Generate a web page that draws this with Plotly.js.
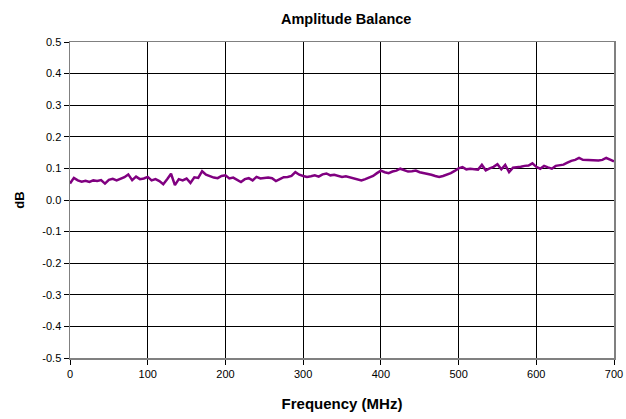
<!DOCTYPE html>
<html>
<head>
<meta charset="utf-8">
<script src="https://cdn.plot.ly/plotly-3.0.1.min.js"></script>
<style>html,body{margin:0;padding:0;background:#fff;}#chart{width:626px;height:419px;}</style>
</head>
<body>
<div id="chart"></div>
<script>
const freqMHz = [0,5,10,15,20,25,30,35,40,45,50,55,60,65,70,75,80,85,90,95,
100,105,110,115,120,125,130,135,140,145,150,155,160,165,170,175,180,185,190,195,
200,205,210,215,220,225,230,235,240,245,250,255,260,265,270,275,280,285,290,295,
300,305,310,315,320,325,330,335,340,345,350,355,360,365,370,375,380,385,390,395,
400,405,410,415,420,425,430,435,440,445,450,455,460,465,470,475,480,485,490,495,
500,505,510,515,520,525,530,535,540,545,550,555,560,565,570,575,580,585,590,595,
600,605,610,615,620,625,630,635,640,645,650,655,660,665,670,675,680,685,690,695,700];
const balanceDB = [0.052,0.070,0.062,0.058,0.061,0.057,0.062,0.060,0.063,0.052,0.064,0.067,0.062,0.068,0.072,0.081,0.063,0.074,0.066,0.068,
0.073,0.062,0.066,0.060,0.050,0.066,0.083,0.047,0.066,0.062,0.068,0.054,0.072,0.070,0.091,0.080,0.075,0.071,0.069,0.076,
0.078,0.068,0.071,0.064,0.057,0.066,0.069,0.062,0.073,0.068,0.070,0.071,0.069,0.060,0.066,0.072,0.073,0.076,0.088,0.080,
0.076,0.073,0.075,0.078,0.074,0.081,0.084,0.078,0.080,0.076,0.073,0.075,0.072,0.070,0.065,0.062,0.066,0.072,0.076,0.085,
0.093,0.088,0.085,0.090,0.093,0.099,0.094,0.090,0.091,0.093,0.088,0.086,0.082,0.080,0.076,0.073,0.076,0.080,0.085,0.092,
0.100,0.104,0.097,0.099,0.098,0.096,0.111,0.094,0.100,0.105,0.113,0.097,0.111,0.088,0.102,0.103,0.105,0.108,0.109,0.116,
0.105,0.099,0.108,0.103,0.099,0.108,0.111,0.112,0.118,0.124,0.127,0.133,0.127,0.126,0.125,0.124,0.125,0.127,0.133,0.128,0.122];
const xTickVals = [0,100,200,300,400,500,600,700];
const yTickVals = [0.5,0.4,0.3,0.2,0.1,0.0,-0.1,-0.2,-0.3,-0.4,-0.5];
const yTickText = ["0.5","0.4","0.3","0.2","0.1","0.0","-0.1","-0.2","-0.3","-0.4","-0.5"];

const font = "Liberation Sans, Arial, sans-serif";
const trace = {
  x: freqMHz, y: balanceDB, type: "scatter", mode: "lines",
  line: {color: "#800080", width: 2.5}, hoverinfo: "skip"
};
const axisCommon = {
  showgrid: true, gridcolor: "#000000", gridwidth: 1,
  showline: true, linecolor: "#808080", linewidth: 1.5, mirror: true,
  ticks: "outside", ticklen: 5, tickcolor: "#000000", tickwidth: 1,
  zeroline: false, tickfont: {family: font, size: 11, color: "#000"},
  fixedrange: true
};
const layout = {
  width: 626, height: 419,
  margin: {l: 70, r: 12, t: 42, b: 61},
  paper_bgcolor: "#fff", plot_bgcolor: "#fff",
  showlegend: false,
  title: {text: "<b>Amplitude Balance</b>", font: {family: font, size: 14.5, color: "#000"}, x: 0.553, xanchor: "center", y: 0.955, yanchor: "middle"},
  xaxis: Object.assign({}, axisCommon, {
    range: [0, 700], tickvals: xTickVals, ticktext: xTickVals.map(String),
    title: {text: "<b>Frequency (MHz)</b>", font: {family: font, size: 15, color: "#000"}, standoff: 20}
  }),
  yaxis: Object.assign({}, axisCommon, {
    range: [-0.5, 0.5], tickvals: yTickVals, ticktext: yTickText,
    title: {text: "<b>dB</b>", font: {family: font, size: 13, color: "#000"}, standoff: 15}
  })
};
Plotly.newPlot("chart", [trace], layout, {staticPlot: true, displayModeBar: false});
</script>
</body>
</html>
